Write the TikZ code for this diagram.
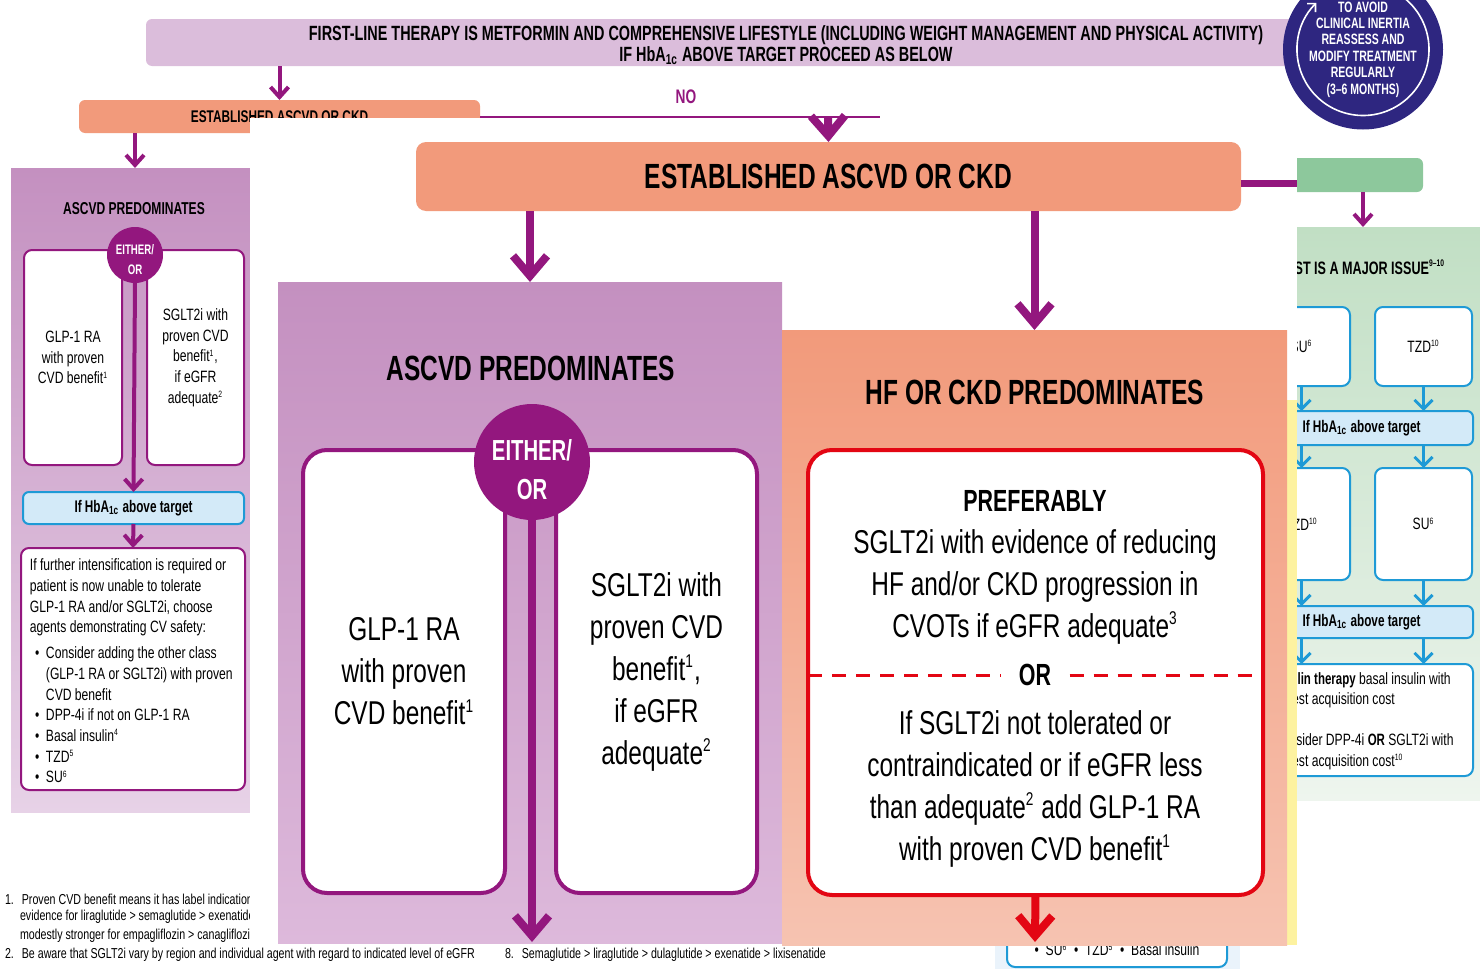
\documentclass[tikz,border=0pt]{standalone}
\usepackage{fontspec}
\setmainfont{Liberation Sans}[UprightFeatures={FakeStretch=0.74},BoldFeatures={FakeStretch=0.70}]
\usetikzlibrary{positioning}
\usetikzlibrary{arrows.meta}

\definecolor{ascvdpurple}{HTML}{93177E}
\definecolor{lilactop}{HTML}{C490C0}
\definecolor{lilacbot}{HTML}{DDB9DB}
\definecolor{lilacpale}{HTML}{E7D2E7}
\definecolor{topbar}{HTML}{DBBDDB}
\definecolor{estorange}{HTML}{F29A7B}
\definecolor{hfbot}{HTML}{F6C3B1}
\definecolor{hfred}{HTML}{E30613}
\definecolor{flowblue}{HTML}{1E9AD6}
\definecolor{hbablue}{HTML}{D3EAF8}
\definecolor{costgreen}{HTML}{8DC89C}
\definecolor{greentop}{HTML}{C1DFC4}
\definecolor{greenbot}{HTML}{EEF5EE}
\definecolor{inertianavy}{HTML}{2E2680}
\definecolor{stripyellow}{HTML}{FDF2A0}
\definecolor{basebg}{HTML}{EAF3FB}

\newcommand{\bodyfont}{\fontsize{16.5}{21}\selectfont}
\newcommand{\headfont}{\fontsize{17.5}{21}\selectfont\bfseries}
\newcommand{\smallfont}{\fontsize{8.2}{10.35}\selectfont}
\newcommand{\notefont}{\fontsize{7.2}{9.25}\selectfont}
\newcommand{\fnm}[1]{\textsuperscript{\scalebox{0.8}{#1}}}
\newcommand{\bulitem}{\hspace*{2.5pt}\makebox[5.5pt][l]{\textbullet}}
\newcommand{\bulindent}{\hspace*{8pt}}

\begin{document}
\begin{tikzpicture}[%
    x=0.5pt, y=-0.5pt,
    every node/.style={inner sep=0pt, outer sep=0pt},
    panel/.style={rectangle, draw=none},
    pbox/.style={rectangle, draw=ascvdpurple, fill=white, line width=2pt, rounded corners=12pt, align=center, font=\bodyfont},
    spbox/.style={rectangle, draw=ascvdpurple, fill=white, line width=1pt, rounded corners=4pt, align=center, font=\smallfont},
    bbox/.style={rectangle, draw=flowblue, fill=white, line width=1pt, rounded corners=4pt, align=center, font=\smallfont},
    hba/.style={rectangle, draw=flowblue, fill=hbablue, line width=1pt, rounded corners=3pt, font={\fontsize{8.4}{10}\selectfont\bfseries}},
    eitheror/.style={circle, fill=ascvdpurple},
    bigflow/.style={draw=ascvdpurple, line width=4pt, -{Straight Barb[length=10pt,width=17pt]}},
    redflow/.style={bigflow, draw=hfred},
    midflow/.style={draw=ascvdpurple, line width=2pt, -{Straight Barb[length=5pt,width=9pt]}},
    blueflow/.style={draw=flowblue, line width=1.5pt, -{Straight Barb[length=4.5pt,width=9pt]}},
    dashline/.style={draw=hfred, line width=1.5pt, dash pattern=on 7pt off 5pt}
]
    \useasboundingbox (0,0) rectangle (1480,969);
    \clip (0,0) rectangle (1480,969);

    % --- chart behind the zoomed part ---
    \node[panel, fill=topbar, rounded corners=3pt, minimum width=640pt, minimum height=23.5pt] (topbar) at (786,42.5) {};
    \node[align=center, font={\fontsize{10.3}{9.5}\selectfont\bfseries}] (firstline) at (786,45)
          {FIRST-LINE THERAPY IS METFORMIN AND COMPREHENSIVE LIFESTYLE (INCLUDING WEIGHT MANAGEMENT AND PHYSICAL ACTIVITY)\\
           IF HbA\textsubscript{1c} ABOVE TARGET PROCEED AS BELOW};
    \node[circle, fill=inertianavy, minimum size=80pt, text=white, align=center,
          font={\fontsize{7.5}{8.2}\selectfont\bfseries}] (inertia) at (1363,49.5)
          {TO AVOID\\CLINICAL INERTIA\\REASSESS AND\\MODIFY TREATMENT\\REGULARLY\\(3–6 MONTHS)};
    \draw[white, line width=0.8pt, -{Straight Barb[length=3pt,width=6pt]}]
        (inertia.center) ++(120:33pt) arc[start angle=120, end angle=-225, radius=33pt];

    \node[panel, fill=estorange, rounded corners=3pt, minimum width=200.5pt, minimum height=16.5pt,
          font={\fontsize{8.45}{10}\selectfont\bfseries}] (small) at (279.5,116.5) {ESTABLISHED ASCVD OR CKD};
    \path [draw, midflow] (topbar.south -| small.north) -- (small.north);
    \node[text=ascvdpurple, font={\fontsize{9.8}{10}\selectfont\bfseries}] (nolbl) at (686,97) {NO};
    \coordinate (nostop) at (880,116.5);
    \path [draw, ascvdpurple, line width=1pt] (small.east) -- (nostop);

    % small ASCVD panel
    \node[panel, top color=lilactop, bottom color=lilacpale, minimum width=124pt, minimum height=322pt] (leftp) at (135,490) {};
    \path [draw, midflow] (small.south -| leftp.north) -- (leftp.north);
    \node[font={\fontsize{8.6}{10}\selectfont\bfseries}] (leftttl) at (134,209) {ASCVD PREDOMINATES};
    \node[spbox, minimum width=49pt, minimum height=107.5pt] (glpL) at (73,357.5)
        {GLP-1 RA\\with proven\\CVD benefit\fnm{1}};
    \node[spbox, minimum width=48.5pt, minimum height=107.5pt] (sgltL) at (195.5,357.5)
        {SGLT2i with\\proven CVD\\benefit\fnm{1},\\if eGFR\\adequate\fnm{2}};
    \node[eitheror, minimum size=28pt] (eoL) at (135,255) {};
    \node[text=white, align=center, font={\fontsize{6.9}{10}\selectfont\bfseries}] (eoLtext) at (135,259.5) {EITHER/\\OR};
    \node[hba, minimum width=110.5pt, minimum height=16pt] (hbaL) at (133.5,508) {If HbA\textsubscript{1c} above target};
    \path [draw, midflow] (eoL.south) -- (hbaL.north);
    \node[spbox, minimum width=112pt, minimum height=121pt] (furL) at (133,669) {};
    \node[anchor=west, align=left, font=\smallfont] (furtext) at (30,671)
        {If further intensification is required or\\
         patient is now unable to tolerate\\
         GLP-1 RA and/or SGLT2i, choose\\
         agents demonstrating CV safety:\\[2.5pt]
         \bulitem Consider adding the other class\\
         \bulindent (GLP-1 RA or SGLT2i) with proven\\
         \bulindent CVD benefit\\
         \bulitem DPP-4i if not on GLP-1 RA\\
         \bulitem Basal insulin\fnm{4}\\
         \bulitem TZD\fnm{5}\\
         \bulitem SU\fnm{6}};
    \path [draw, midflow] (hbaL.south) -- (furL.north);

    % cost panel
    \node[panel, fill=costgreen, rounded corners=3pt, minimum width=86.5pt, minimum height=17pt] (costbox) at (1336.5,175) {};
    \node[panel, top color=greentop, bottom color=greenbot, minimum width=210pt, minimum height=286.5pt] (greenp) at (1290,513.5) {};
    \path [draw, midflow] (greenp.north -| 1363,0) ++(0,-35) -- (greenp.north -| 1363,0);
    \node[anchor=east, font={\fontsize{9}{10}\selectfont\bfseries}] (costttl) at (1445,267) {COST IS A MAJOR ISSUE\fnm{9–10}};
    \node[bbox, minimum width=48.5pt, minimum height=39.5pt] (g1l) at (1301.5,346.5) {SU\fnm{6}};
    \node[bbox, minimum width=48.5pt, minimum height=39.5pt] (g1r) at (1423.5,346.5) {TZD\fnm{10}};
    \node[hba, minimum width=111.5pt, minimum height=17pt] (hb2) at (1361.5,428) {If HbA\textsubscript{1c} above target};
    \node[bbox, minimum width=48.5pt, minimum height=56pt] (g2l) at (1301.5,524) {TZD\fnm{10}};
    \node[bbox, minimum width=48.5pt, minimum height=56pt] (g2r) at (1423.5,524) {SU\fnm{6}};
    \node[hba, minimum width=111.5pt, minimum height=16pt] (hb3) at (1361.5,622) {If HbA\textsubscript{1c} above target};
    \node[bbox, minimum width=110pt, minimum height=56pt] (gfin) at (1363,720) {};
    \node[anchor=west, align=left, font=\smallfont] (gfintext) at (1274,721)
        {\textbf{Insulin therapy} basal insulin with\\lowest acquisition cost\\[10pt]
         Consider DPP-4i \textbf{OR} SGLT2i with\\lowest acquisition cost\fnm{10}};
    \foreach \col in {g1l, g1r} {
        \path [draw, blueflow] (\col.south) -- (\col.south |- hb2.north);
    }
    \foreach \col in {g2l, g2r} {
        \path [draw, blueflow] (\col.north |- hb2.south) -- (\col.north);
        \path [draw, blueflow] (\col.south) -- (\col.south |- hb3.north);
        \path [draw, blueflow] (\col.south |- hb3.south) -- (\col.south |- gfin.north);
    }

    % bottom options box
    \node[panel, fill=basebg, minimum width=122.5pt, minimum height=37.5pt] (basebg) at (1117.5,937.5) {};
    \node[bbox, minimum width=110pt, minimum height=31pt] (basebox) at (1117,936) {};
    \node[font=\smallfont] (basetxt) at (1117,950)
        {\textbullet\ \ SU\fnm{6}\ \ \textbullet\ \ TZD\fnm{5}\ \ \textbullet\ \ Basal insulin};

    % footnotes
    \node[anchor=west, font=\notefont] (fn1a) at (5,899) {1.\hspace{4pt}Proven CVD benefit means it has label indication};
    \node[anchor=west, font=\notefont] (fn1b) at (20,917) {evidence for liraglutide > semaglutide > exenatide};
    \node[anchor=west, font=\notefont] (fn1c) at (20,936) {modestly stronger for empagliflozin > canagliflozin};
    \node[anchor=west, font=\notefont] (fn2) at (5,955) {2.\hspace{4pt}Be aware that SGLT2i vary by region and individual agent with regard to indicated level of eGFR};
    \node[anchor=west, font=\notefont] (fn8) at (505,955) {8.\hspace{4pt}Semaglutide > liraglutide > dulaglutide > exenatide > lixisenatide};

    % --- zoomed part ---
    \node[panel, fill=white, minimum width=523.5pt, minimum height=413.5pt] (zoom) at (773.5,531.5) {};
    \node[panel, fill=stripyellow, minimum width=5pt, minimum height=272.5pt] (ystrip) at (1292,672.5) {};

    \node[panel, fill=estorange, rounded corners=5pt, minimum width=412.5pt, minimum height=34.5pt, font=\headfont] (est) at (828.5,176.5)
        {ESTABLISHED ASCVD OR CKD};
    \coordinate (nodrop) at (828,118);
    \path [draw, bigflow] (nodrop) -- (est.north);
    \path [draw, ascvdpurple, line width=3.5pt] ([yshift=-3.25pt]est.east) -- ([yshift=-3.25pt]est.east -| zoom.east);

    \node[panel, top color=lilactop, bottom color=lilacbot, minimum width=252pt, minimum height=330.5pt] (ascvd) at (530,612.5) {};
    \node[panel, top color=estorange, bottom color=hfbot, minimum width=252.5pt, minimum height=307.5pt] (hf) at (1034.5,637.5) {};
    \path [draw, bigflow] (est.south -| ascvd.north) -- (ascvd.north);
    \path [draw, bigflow] (est.south -| hf.north) -- (hf.north);

    \node[font=\headfont] (ascttl) at (531,368) {ASCVD PREDOMINATES};
    \node[pbox, minimum width=101pt, minimum height=221.5pt] (glp) at (404,671.5)
        {GLP-1 RA\\with proven\\CVD benefit\fnm{1}};
    \node[pbox, minimum width=100.5pt, minimum height=221.5pt] (sglt) at (656.5,671.5)
        {SGLT2i with\\proven CVD\\benefit\fnm{1},\\if eGFR\\adequate\fnm{2}};
    \node[eitheror, minimum size=58pt] (eo) at (532,462) {};
    \node[text=white, align=center, font={\fontsize{14.5}{19.5}\selectfont\bfseries}] (eotext) at (532,470) {EITHER/\\OR};
    \coordinate (ascend) at (532,942);
    \path [draw, bigflow] (eo.south) -- (ascend);

    \node[font=\headfont] (hfttl) at (1035,392) {HF OR CKD PREDOMINATES};
    \node[panel, draw=hfred, fill=white, line width=2pt, rounded corners=12pt, minimum width=227.5pt, minimum height=222.5pt] (red) at (1035.5,672.5) {};
    \node[align=center, font=\bodyfont] (pref) at (1035,567)
        {{\fontsize{15.3}{21}\selectfont\bfseries PREFERABLY}\\SGLT2i with evidence of reducing\\HF and/or CKD progression in\\CVOTs if eGFR adequate\fnm{3}};
    \node[fill=white, minimum width=34.5pt, font={\fontsize{15.3}{18}\selectfont\bfseries}] (orn) at (1035,675) {OR};
    \path [dashline] (red.west |- orn) -- (orn.west);
    \path [dashline] (orn.east) -- (red.east |- orn);
    \node[align=center, font=\bodyfont] (alt) at (1035,789)
        {If SGLT2i not tolerated or\\contraindicated or if eGFR less\\than adequate\fnm{2} add GLP-1 RA\\with proven CVD benefit\fnm{1}};
    \coordinate (hfend) at (1035,942);
    \path [draw, redflow] (red.south) -- (hfend);
\end{tikzpicture}
\end{document}
